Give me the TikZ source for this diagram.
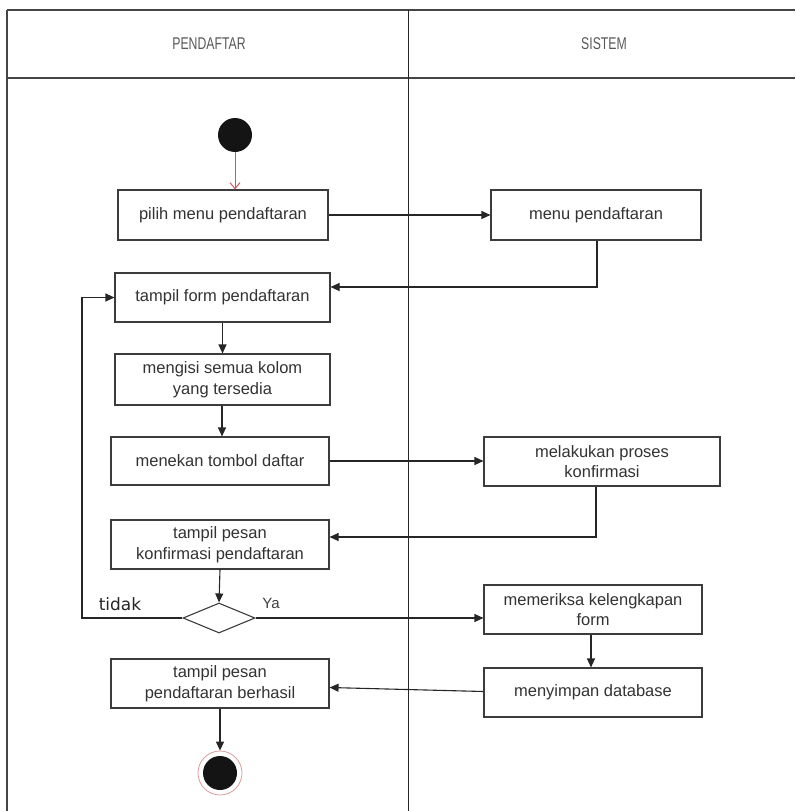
\documentclass[tikz,border=0pt]{standalone}
\usepackage{fontspec}
\usepackage{graphicx}
\setmainfont{Liberation Sans}
\newfontfamily\labfont{DejaVu Sans}
\usetikzlibrary{shapes.geometric,arrows.meta,calc}
\definecolor{lanecol}{RGB}{70,70,70}
\definecolor{boxcol}{RGB}{60,60,60}
\definecolor{startred}{RGB}{200,90,90}
\begin{document}
\begin{tikzpicture}[x=1pt,y=-1pt,
  act/.style={draw=boxcol,line width=1.1pt,fill=white,rectangle,align=center,
    font=\fontsize{16.5}{20.5}\selectfont\color{black!80},inner sep=2pt},
  arr/.style={draw=black!85,line width=1.1pt,-{Triangle[length=9pt,width=8pt]}},
  lane/.style={draw=lanecol,line width=1.3pt},
  hdr/.style={font=\fontsize{17}{20}\selectfont\color{black!65}}]
\useasboundingbox (0,0) rectangle (795,811);
% swimlanes
\draw[lane] (7,10) -- (795,10);
\draw[lane] (7,78) -- (795,78);
\draw[lane] (7,10) -- (7,811);
\draw[draw=black!85,line width=1pt] (408,10) -- (408,811);
\node[hdr] (h1) at (209,44) {\scalebox{0.72}[1]{PENDAFTAR}};
\node[hdr] (h2) at (604,44) {\scalebox{0.72}[1]{SISTEM}};
% nodes
\node[circle,fill=black!92,minimum size=34pt,inner sep=0pt] (start) at (235,135) {};
\node[act,minimum width=210pt,minimum height=50pt] (b1) at (223,215) {pilih menu pendaftaran};
\node[act,minimum width=210pt,minimum height=50pt] (menu) at (596,215) {menu pendaftaran};
\node[act,minimum width=215pt,minimum height=49pt] (b2) at (222.5,297.5) {tampil form pendaftaran};
\node[act,minimum width=215pt,minimum height=51pt] (b3) at (222.5,379.5) {mengisi semua kolom\\yang tersedia};
\node[act,minimum width=218pt,minimum height=48pt] (b4) at (220,461) {menekan tombol daftar};
\node[act,minimum width=236pt,minimum height=49pt] (konf) at (602,461.5) {melakukan proses\\konfirmasi};
\node[act,minimum width=218pt,minimum height=49pt] (b5) at (220,544.5) {tampil pesan\\konfirmasi pendaftaran};
\node[diamond,draw=boxcol,line width=1.1pt,fill=white,minimum width=72pt,minimum height=30pt,inner sep=0pt,aspect=2.4] (dia) at (219,618) {};
\node[act,minimum width=218pt,minimum height=49pt] (periksa) at (593,609.5) {memeriksa kelengkapan\\form};
\node[act,minimum width=218pt,minimum height=49pt] (simpan) at (593,692.5) {menyimpan database};
\node[act,minimum width=218pt,minimum height=49pt] (b6) at (220,683.5) {tampil pesan\\pendaftaran berhasil};
\node[circle,draw=startred!60,line width=0.8pt,fill=white,minimum size=44pt,inner sep=0pt] (endo) at (220,773) {};
\node[circle,fill=black!92,minimum size=34pt,inner sep=0pt] (endi) at (220,773) {};
\node[font=\labfont\fontsize{17}{20}\selectfont,color=black!85] (tidak) at (120,604) {tidak};
\node[font=\fontsize{15}{18}\selectfont,color=black!75] (ya) at (271,603) {Ya};
\coordinate (loop) at (82,618);
% connectors
\draw[draw=startred,line width=1pt,-{Straight Barb[length=6pt,width=10pt]}] (start.south) -- (b1.north -| start.south);
\draw[arr] (b1.east) -- (menu.west);
\draw[arr] ([xshift=1pt]menu.south) |- ([yshift=10.5pt]b2.east);
\draw[arr] (b2.south) -- (b3.north);
\draw[arr] ([xshift=-0.5pt]b3.south) -- ([xshift=-0.5pt]b3.south |- b4.north);
\draw[arr] (b4.east) -- (b4.east -| konf.west);
\draw[arr] ([xshift=-6pt]konf.south) |- ([yshift=7.5pt]b5.east);
\draw[arr] (b5.south) -- (dia.north);
\draw[arr] (dia.west) -- (loop) |- (b2.west);
\draw[arr] (dia.east) -- (dia.east -| periksa.west);
\draw[arr] ([xshift=-2pt]periksa.south) -- ([xshift=-2pt]simpan.north);
\draw[arr] ([yshift=1pt]simpan.west) -- ([yshift=-4pt]b6.east);
\draw[arr] (b6.south) -- (endo.north);
\end{tikzpicture}
\end{document}
